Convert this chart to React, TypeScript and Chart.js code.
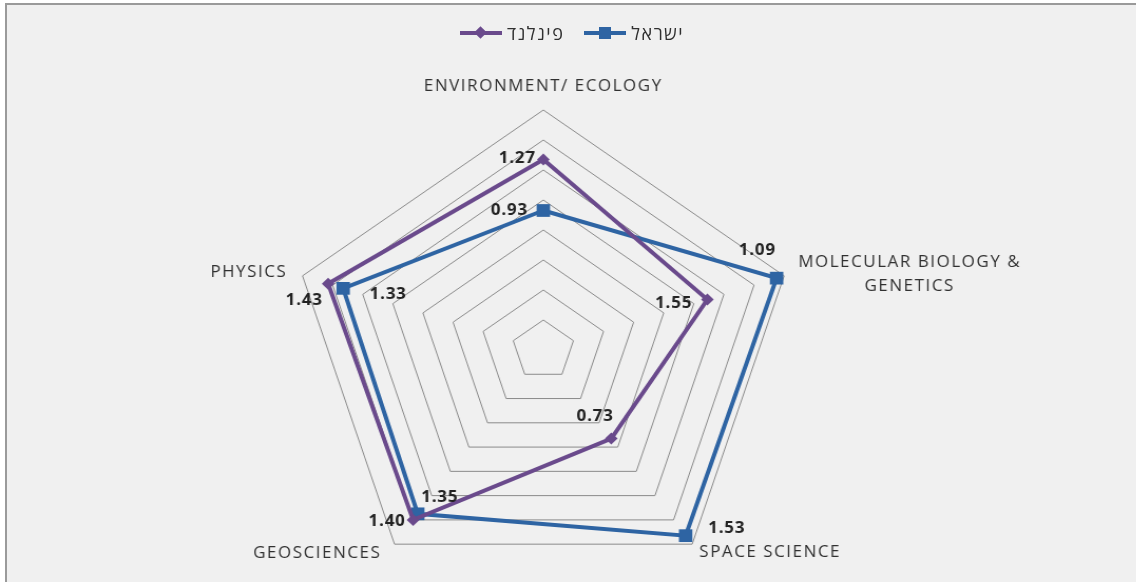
import React, { useEffect, useRef } from "react";
import { Chart, registerables } from "chart.js";

Chart.register(...registerables);

// ---------- data ----------
const categories: (string | string[])[] = [
  "ENVIRONMENT/ ECOLOGY",
  ["MOLECULAR BIOLOGY &", "GENETICS"],
  "SPACE SCIENCE",
  "GEOSCIENCES",
  "PHYSICS",
];
const seriesNames = ["פינלנד", "ישראל"];
const finlandValues = [1.27, 1.09, 0.73, 1.4, 1.43];
const israelValues = [0.93, 1.55, 1.53, 1.35, 1.33];
const axisMin = 0;
const axisMax = 1.6;
const axisStep = 0.2;

// ---------- styles ----------
const STRETCH_X = 1.055;
const CANVAS_W = 1077;
const CANVAS_H = 600;
const seriesColors = ["#6a4a8c", "#2e64a3"];
const pointStyles = ["rectRot", "rect"];
const pointRadii = [6, 9];
const textColor = "#303030";
// data label offsets from their point (canvas px)
const dataLabelOffsets = [
  [[-24.6, -1], [47.4, -49], [-15.2, -22], [-24.6, 2], [-22.7, 17]],
  [[-32.2, 0], [-97.6, 25], [38.9, -7], [20.9, -16], [42.7, 6]],
];
// axis label placement relative to outer vertex
const axisLabelPlacement = [
  { dx: 0, dy: -24, align: "center" },
  { dx: 13.4, dy: -1, align: "left" },
  { dx: 6.8, dy: 8, align: "left" },
  { dx: -12.5, dy: 9, align: "right" },
  { dx: -14.4, dy: -3, align: "right" },
];

const axisLabelPlugin = {
  id: "axisLabels",
  afterDraw(chart: any) {
    const scale = chart.scales.r;
    const ctx = chart.ctx as CanvasRenderingContext2D;
    ctx.save();
    ctx.font = '16px "Open Sans", "DejaVu Sans", sans-serif';
    (ctx as any).letterSpacing = "1.5px";
    ctx.fillStyle = textColor;
    ctx.textBaseline = "middle";
    ctx.textAlign = "center";
    const lh = 24;
    categories.forEach((cat, i) => {
      const p = scale.getPointPosition(i, scale.drawingArea);
      const st = axisLabelPlacement[i];
      const lines = Array.isArray(cat) ? cat : [cat];
      const bw = Math.max(...lines.map((l) => ctx.measureText(l).width));
      let left: number;
      if (st.align === "center") left = p.x + st.dx - bw / 2;
      else if (st.align === "left") left = p.x + st.dx;
      else left = p.x + st.dx - bw;
      const top = p.y + st.dy - (lh * (lines.length - 1)) / 2;
      lines.forEach((l, k) => ctx.fillText(l, left + bw / 2, top + k * lh));
    });
    ctx.restore();
  },
};

const dataLabelPlugin = {
  id: "dataLabels",
  afterDatasetsDraw(chart: any) {
    const ctx = chart.ctx as CanvasRenderingContext2D;
    ctx.save();
    ctx.font = 'bold 16px "Open Sans", "DejaVu Sans", sans-serif';
    (ctx as any).letterSpacing = "0.8px";
    ctx.fillStyle = "#222222";
    ctx.textBaseline = "middle";
    ctx.textAlign = "center";
    chart.data.datasets.forEach((ds: any, di: number) => {
      const meta = chart.getDatasetMeta(di);
      meta.data.forEach((pt: any, j: number) => {
        const [dx, dy] = dataLabelOffsets[di][j];
        ctx.fillText(Number(ds.data[j]).toFixed(2), pt.x + dx, pt.y + dy);
      });
    });
    ctx.restore();
  },
};

function LegendMarker({ color, kind }: { color: string; kind: string }) {
  return (
    <span style={{ position: "relative", display: "inline-block", width: 42, height: 16, marginRight: 5 }}>
      <span style={{ position: "absolute", left: 0, right: 0, top: 6, height: 4, background: color }} />
      {kind === "rectRot" ? (
        <span style={{ position: "absolute", left: 16, top: 3, width: 9, height: 9, background: color, transform: "rotate(45deg)" }} />
      ) : (
        <span style={{ position: "absolute", left: 15, top: 2, width: 12, height: 12, background: color }} />
      )}
    </span>
  );
}

export default function App() {
  const canvasRef = useRef<HTMLCanvasElement | null>(null);

  useEffect(() => {
    document.body.style.margin = "0";
    const canvas = canvasRef.current;
    if (!canvas) return;
    const values = [finlandValues, israelValues];
    const chart = new Chart(canvas, {
      type: "radar",
      data: {
        labels: categories.map((c) => (Array.isArray(c) ? c.join(" ") : c)),
        datasets: seriesNames.map((name, i) => ({
          label: name,
          data: values[i],
          borderColor: seriesColors[i],
          backgroundColor: seriesColors[i],
          pointBackgroundColor: seriesColors[i],
          pointBorderColor: seriesColors[i],
          borderWidth: 4,
          fill: false,
          pointStyle: pointStyles[i] as any,
          pointRadius: pointRadii[i],
          pointBorderWidth: 0,
          tension: 0,
        })),
      },
      options: {
        responsive: false,
        maintainAspectRatio: false,
        animation: false,
        devicePixelRatio: 1,
        layout: { padding: { left: 275, right: CANVAS_W - 275 - 480, top: 110, bottom: CANVAS_H - 110 - 480 } },
        plugins: { legend: { display: false }, tooltip: { enabled: false } },
        scales: {
          r: {
            min: axisMin,
            max: axisMax,
            ticks: { display: false, stepSize: axisStep },
            grid: { color: "#8a8a8a", lineWidth: 1 },
            angleLines: { display: false },
            pointLabels: { display: false },
          },
        },
      },
      plugins: [dataLabelPlugin, axisLabelPlugin],
    });
    return () => chart.destroy();
  }, []);

  return (
    <div style={{ position: "fixed", left: 0, top: 0, width: 1136, height: 582, overflow: "hidden", background: "#ffffff" }}>
      <div
        style={{
          position: "absolute",
          left: 5,
          top: 3,
          width: 1200,
          height: 700,
          borderTop: "2px solid #9a9a9a",
          borderLeft: "2px solid #9a9a9a",
          background: "#f0f0f0",
        }}
      />
      <canvas
        ref={canvasRef}
        width={CANVAS_W}
        height={CANVAS_H}
        style={{
          position: "absolute",
          left: 0,
          top: 0,
          width: CANVAS_W,
          height: CANVAS_H,
          transform: `scaleX(${STRETCH_X})`,
          transformOrigin: "0 0",
        }}
      />
      <div
        style={{
          position: "absolute",
          left: 460,
          top: 22,
          display: "flex",
          alignItems: "center",
          fontFamily: '"Open Sans", "DejaVu Sans", sans-serif',
          fontSize: 18,
          color: textColor,
          lineHeight: "22px",
        }}
      >
        {seriesNames.map((name, i) => (
          <span key={name} style={{ display: "inline-flex", alignItems: "center", marginRight: i === 0 ? 20 : 0 }}>
            <LegendMarker color={seriesColors[i]} kind={pointStyles[i]} />
            <span dir="rtl" style={{ letterSpacing: 1.5 }}>{name}</span>
          </span>
        ))}
      </div>
    </div>
  );
}
